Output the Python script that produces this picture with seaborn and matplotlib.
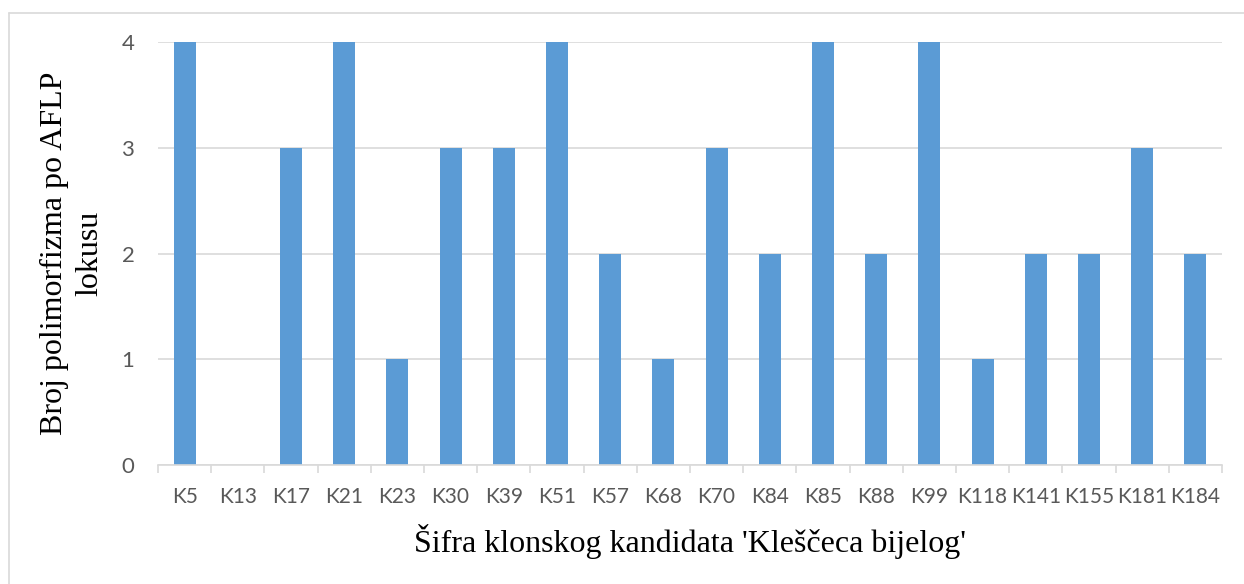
import matplotlib
matplotlib.use("Agg")
import matplotlib.pyplot as plt
import seaborn as sns
import pandas as pd
from matplotlib.lines import Line2D
from matplotlib.ticker import FixedLocator

categories = ["K5", "K13", "K17", "K21", "K23", "K30", "K39", "K51", "K57", "K68",
              "K70", "K84", "K85", "K88", "K99", "K118", "K141", "K155", "K181", "K184"]
values = [4, 0, 3, 4, 1, 3, 3, 4, 2, 1, 3, 2, 4, 2, 4, 1, 2, 2, 3, 2]
yticks = [0, 1, 2, 3, 4]

df = pd.DataFrame({"kand": categories, "broj": values})

sns.set_theme(style="white")
plt.rcParams['font.family'] = ['Lato', 'DejaVu Sans']

fig = plt.figure(figsize=(12.44, 5.84), dpi=100)
ax = fig.add_axes([158/1244, 1-465/584, (1222-158)/1244, (465-42)/584])

sns.barplot(data=df, x="kand", y="broj", color="#5B9BD5", saturation=1,
            width=0.41, ax=ax, linewidth=0)

ax.set_ylim(0, 4)
ax.set_xlim(-0.5, len(categories) - 0.5)
ax.set_yticks(yticks)
ax.yaxis.grid(True, color="#D9D9D9", linewidth=1.2)
ax.set_axisbelow(True)
for s in ["top", "right", "left"]:
    ax.spines[s].set_visible(False)
ax.spines["bottom"].set_color("#D9D9D9")
ax.spines["bottom"].set_linewidth(1.2)

ax.xaxis.set_minor_locator(FixedLocator([i - 0.5 for i in range(len(categories) + 1)]))
ax.tick_params(axis="x", which="minor", length=6, width=1.2, color="#D9D9D9", bottom=True)
ax.tick_params(axis="x", which="major", length=0, pad=16, labelsize=15, labelcolor="#595959")
ax.tick_params(axis="y", length=0, pad=17, labelsize=16, labelcolor="#595959")

ax.set_xlabel("Šifra klonskog kandidata 'Kleščeca bijelog'", fontsize=23,
              family="Liberation Serif", color="black", labelpad=12)
ax.set_ylabel("Broj polimorfizma po AFLP\nlokusu", fontsize=23,
              family="Liberation Serif", color="black", labelpad=12, linespacing=1.3)

# outer chart border (left and top visible)
fig.add_artist(Line2D([8.5/1244, 8.5/1244], [0, 1-12.5/584], transform=fig.transFigure,
                      color="#D9D9D9", linewidth=1.2))
fig.add_artist(Line2D([8.5/1244, 1], [1-12.5/584, 1-12.5/584], transform=fig.transFigure,
                      color="#D9D9D9", linewidth=1.2))

fig.savefig("out.png", dpi=100)
